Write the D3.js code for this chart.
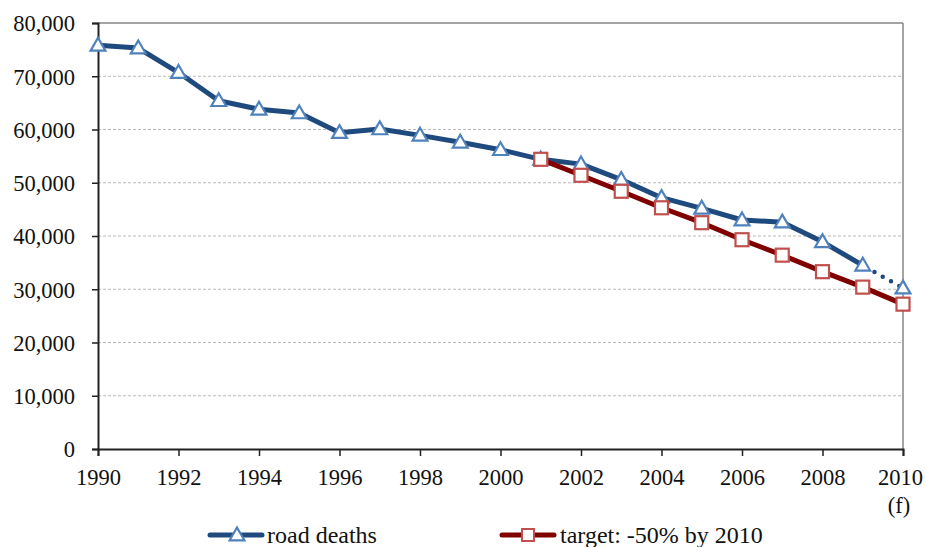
<!DOCTYPE html>
<html>
<head>
<meta charset="utf-8">
<script src="https://cdn.jsdelivr.net/npm/d3@7"></script>
</head>
<body style="margin:0;background:#fff">
<svg id="chart" width="926" height="547" font-family="Liberation Serif"></svg>
<script>
const years = [1990,1991,1992,1993,1994,1995,1996,1997,1998,1999,2000,2001,2002,2003,2004,2005,2006,2007,2008,2009,2010];
const roadDeaths = [75800,75300,70700,65400,63800,63100,59400,60100,58900,57600,56200,54400,53500,50600,47200,45200,43000,42600,38900,34500,30200];
const target = [null,null,null,null,null,null,null,null,null,null,null,54400,51400,48400,45300,42500,39300,36400,33300,30400,27200];
const yTicks = [0,10000,20000,30000,40000,50000,60000,70000,80000];
const xTicks = [1990,1992,1994,1996,1998,2000,2002,2004,2006,2008,2010];
const seriesNames = ["road deaths", "target: -50% by 2010"];
const forecastFrom = 2009;

const FONT = "Liberation Serif";
const FS = 22.5, LFS = 24;
const svg = d3.select("#chart");
const m = {left: 98, right: 903, top: 23, bottom: 449};
const x = d3.scaleLinear().domain([1990, 2010]).range([m.left, m.right]);
const y = d3.scaleLinear().domain([0, 80000]).range([m.bottom, m.top]);
const fmt = d3.format(",");

// gridlines
svg.append("g").selectAll("line").data(yTicks.filter(d => d > 0 && d < 80000)).join("line")
  .attr("x1", m.left).attr("x2", m.right)
  .attr("y1", d => y(d)).attr("y2", d => y(d))
  .attr("stroke", "#b8b8b8").attr("stroke-width", 1).attr("stroke-dasharray", "3,2");

// top & right border
svg.append("line").attr("x1", m.left).attr("x2", m.right).attr("y1", y(80000)).attr("y2", y(80000))
  .attr("stroke", "#868686").attr("stroke-width", 1.5);
svg.append("line").attr("x1", m.right).attr("x2", m.right).attr("y1", m.top).attr("y2", m.bottom)
  .attr("stroke", "#868686").attr("stroke-width", 1.5);

// axes
const yAxis = d3.axisLeft(y).tickValues(yTicks).tickFormat(fmt).tickSize(6).tickPadding(17);
const gy = svg.append("g").attr("transform", `translate(${m.left},0)`).call(yAxis);
const xAxis = d3.axisBottom(x).tickValues(xTicks).tickFormat(d3.format("d")).tickSize(7).tickPadding(13);
const gx = svg.append("g").attr("transform", `translate(0,${m.bottom})`).call(xAxis);
[gy, gx].forEach(g => {
  g.attr("font-family", FONT).attr("font-size", FS);
  g.select(".domain").attr("stroke", "#222").attr("stroke-width", 2);
  g.selectAll(".tick line").attr("stroke", "#222").attr("stroke-width", 1.5);
  g.selectAll("text").attr("fill", "#111").attr("font-family", FONT).attr("font-size", FS);
});
gy.selectAll("text").attr("dy", "0.35em");
gx.selectAll("text").attr("dx", d => d === 2010 ? -3 : 0);
svg.append("text").attr("x", 899).attr("y", 513).attr("text-anchor", "middle")
  .attr("font-family", FONT).attr("font-size", FS).attr("fill", "#111").text("(f)");

const blue = "#1f4a7e", blueMk = "#4f81bd", red = "#800000", redMk = "#c0504d";
const pts = years.map((yr, i) => ({yr, v: roadDeaths[i]}));
const solid = pts.filter(p => p.yr <= forecastFrom);
const dotted = pts.filter(p => p.yr >= forecastFrom);
const line = d3.line().x(d => x(d.yr)).y(d => y(d.v));

svg.append("path").datum(solid).attr("d", line).attr("fill", "none")
  .attr("stroke", blue).attr("stroke-width", 5).attr("stroke-linejoin", "round");
svg.append("path").datum(dotted).attr("d", line).attr("fill", "none")
  .attr("stroke", blue).attr("stroke-width", 4.5).attr("stroke-linecap", "round")
  .attr("stroke-dasharray", "0,9.5").attr("stroke-dashoffset", -4);

const tri = d3.symbol().type(d3.symbolTriangle).size(95);
svg.append("g").selectAll("path").data(pts).join("path")
  .attr("transform", d => `translate(${x(d.yr)},${y(d.v) + 1})`)
  .attr("d", tri).attr("fill", "#fff").attr("stroke", blueMk).attr("stroke-width", 2.2);

const tpts = years.map((yr, i) => ({yr, v: target[i]})).filter(d => d.v != null);
svg.append("path").datum(tpts).attr("d", line).attr("fill", "none")
  .attr("stroke", red).attr("stroke-width", 5).attr("stroke-linejoin", "round");
svg.append("g").selectAll("rect").data(tpts).join("rect")
  .attr("x", d => x(d.yr) - 6.5).attr("y", d => y(d.v) - 6.5)
  .attr("width", 13).attr("height", 13)
  .attr("fill", "#fff").attr("stroke", redMk).attr("stroke-width", 2.2);

// legend
const lg = svg.append("g").attr("font-family", FONT).attr("font-size", LFS);
const ly = 535;
lg.append("line").attr("x1", 210).attr("x2", 262).attr("y1", ly).attr("y2", ly)
  .attr("stroke", blue).attr("stroke-width", 5).attr("stroke-linecap", "round");
lg.append("path").attr("transform", `translate(237,${ly + 1})`).attr("d", tri)
  .attr("fill", "#fff").attr("stroke", blueMk).attr("stroke-width", 2.2);
lg.append("text").attr("x", 267).attr("y", ly).attr("dy", "0.32em")
  .attr("font-family", FONT).attr("font-size", LFS).attr("fill", "#111").text(seriesNames[0]);
lg.append("line").attr("x1", 502).attr("x2", 554).attr("y1", ly).attr("y2", ly)
  .attr("stroke", red).attr("stroke-width", 5).attr("stroke-linecap", "round");
lg.append("rect").attr("x", 528 - 6).attr("y", ly - 6).attr("width", 12).attr("height", 12)
  .attr("fill", "#fff").attr("stroke", redMk).attr("stroke-width", 2);
lg.append("text").attr("x", 560).attr("y", ly).attr("dy", "0.32em")
  .attr("font-family", FONT).attr("font-size", LFS).attr("fill", "#111").text(seriesNames[1]);
</script>
</body>
</html>
